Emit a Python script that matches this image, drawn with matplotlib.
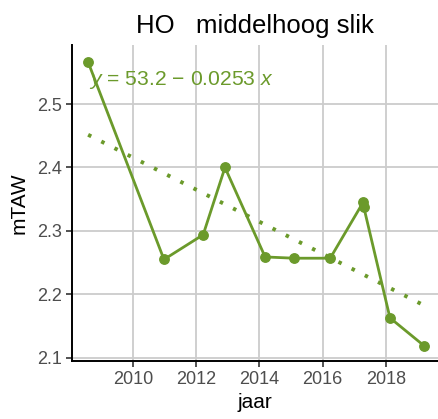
import numpy as np
import matplotlib
matplotlib.use("Agg")
import matplotlib.pyplot as plt

jaar = [2008.58, 2010.98, 2012.22, 2012.91, 2014.18, 2015.10, 2016.24, 2017.28, 2017.30, 2018.13, 2019.21]
mtaw = [2.566, 2.255, 2.294, 2.400, 2.259, 2.257, 2.257, 2.345, 2.338, 2.163, 2.119]

x_ticks = [2010, 2012, 2014, 2016, 2018]
y_ticks = [2.1, 2.2, 2.3, 2.4, 2.5]
title = "HO   middelhoog slik"
groen = "#6B9A2B"

plt.rcParams['font.family'] = ['Liberation Sans', 'DejaVu Sans']
plt.rcParams['mathtext.fontset'] = 'custom'
plt.rcParams['mathtext.rm'] = 'Liberation Sans'
plt.rcParams['mathtext.it'] = 'Liberation Sans:italic'

fig = plt.figure(figsize=(4.38, 4.19), dpi=100)
ax = fig.add_axes([0.1644, 0.1384, 0.8356, 0.7542])

# linear trend through the points
slope, intercept = np.polyfit(jaar, mtaw, 1)
xs = np.array([min(jaar), max(jaar)])
ax.plot(xs, intercept + slope * xs, color=groen, lw=2.8, linestyle=(0, (0.9, 2.9)), zorder=2)

ax.plot(jaar, mtaw, color=groen, lw=2.0, marker='o', markersize=6.8, zorder=3)

ax.text(2008.6, 2.53, r"$y$ = 53.2 − 0.0253 $x$", color=groen, fontsize=15.2,
        ha='left', va='baseline', zorder=4)

ax.set_xlim(2008.07, 2019.65)
ax.set_ylim(2.095, 2.593)
ax.set_xticks(x_ticks)
ax.set_yticks(y_ticks)
ax.grid(True, color='#cccccc', lw=1.3)
ax.set_axisbelow(True)
for s in ['top', 'right']:
    ax.spines[s].set_visible(False)
for s in ['left', 'bottom']:
    ax.spines[s].set_linewidth(1.4)
    ax.spines[s].set_color('black')
ax.tick_params(labelsize=13, labelcolor='#4d4d4d', length=4, width=1.2, color='#333333')

ax.set_xlabel("jaar", fontsize=15, labelpad=3)
ax.set_ylabel("mTAW", fontsize=15, labelpad=6)
ax.set_title(title, fontsize=18.5, pad=9)

fig.savefig("out.png", dpi=100)
